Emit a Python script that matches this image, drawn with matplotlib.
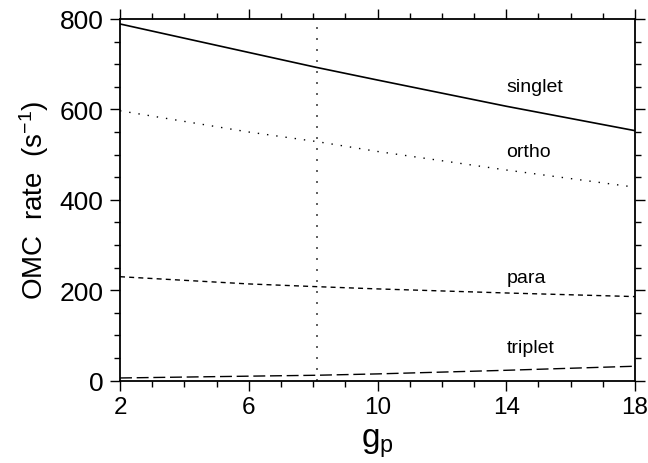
import matplotlib
matplotlib.use("Agg")
import matplotlib.pyplot as plt
from matplotlib.ticker import FixedLocator, MultipleLocator

# data
gp = [2, 6, 8.1, 10, 14, 18]
singlet = [789, 726, 693, 665, 607, 553]
ortho = [597, 550, 529, 507, 466, 428]
para = [230, 214, 208, 203, 194, 186]
triplet = [6, 10, 12, 15, 23, 32]
gp_mark = 8.13
labels = ["singlet", "ortho", "para", "triplet"]
label_x = 14.0
label_y = [641, 497, 219, 63]
xticks = [2, 6, 10, 14, 18]
yticks = [0, 200, 400, 600, 800]

plt.rcParams['font.family'] = ['Liberation Sans', 'DejaVu Sans']
plt.rcParams['mathtext.fontset'] = 'custom'
plt.rcParams['mathtext.rm'] = 'Liberation Sans'
plt.rcParams['mathtext.it'] = 'Liberation Sans'
fig = plt.figure(figsize=(6.48, 4.64), dpi=100)
ax = fig.add_axes([0.1852, 0.1774, 0.7948, 0.7795])

ax.plot(gp, singlet, color='black', lw=1.2, ls='-')
l2, = ax.plot(gp, ortho, color='black', lw=1.0)
l2.set_dashes((1.0, 5.7))
l3, = ax.plot(gp, para, color='black', lw=1.0)
l3.set_dashes((3.6, 3.0))
l4, = ax.plot(gp, triplet, color='black', lw=1.0)
l4.set_dashes((8.6, 3.4))
lv = ax.axvline(gp_mark, color='#444444', lw=1.2)
lv.set_dashes((1.2, 5.4))

for t, y in zip(labels, label_y):
    ax.text(label_x, y, t, fontsize=14, ha='left', va='baseline', color='black')

ax.set_xlim(2, 18)
ax.set_ylim(0, 800)
ax.xaxis.set_major_locator(FixedLocator(xticks))
ax.xaxis.set_minor_locator(MultipleLocator(1))
ax.yaxis.set_major_locator(FixedLocator(yticks))
ax.yaxis.set_minor_locator(MultipleLocator(50))
ax.tick_params(which='both', direction='out', top=True, right=True,
               width=1.0, labelsize=19)
ax.tick_params(axis='x', which='major', labelsize=17.5)
ax.tick_params(which='major', length=7, pad=4)
ax.tick_params(which='minor', length=4)
ax.tick_params(axis='y', which='major', pad=5)
for s in ax.spines.values():
    s.set_linewidth(1.3)

ax.set_ylabel("OMC  rate  (s$^{-1}$)", fontsize=20, labelpad=6)
ax.set_xlabel("g$_\\mathrm{p}$", fontsize=24, labelpad=6)

fig.savefig("out.png", dpi=100)
